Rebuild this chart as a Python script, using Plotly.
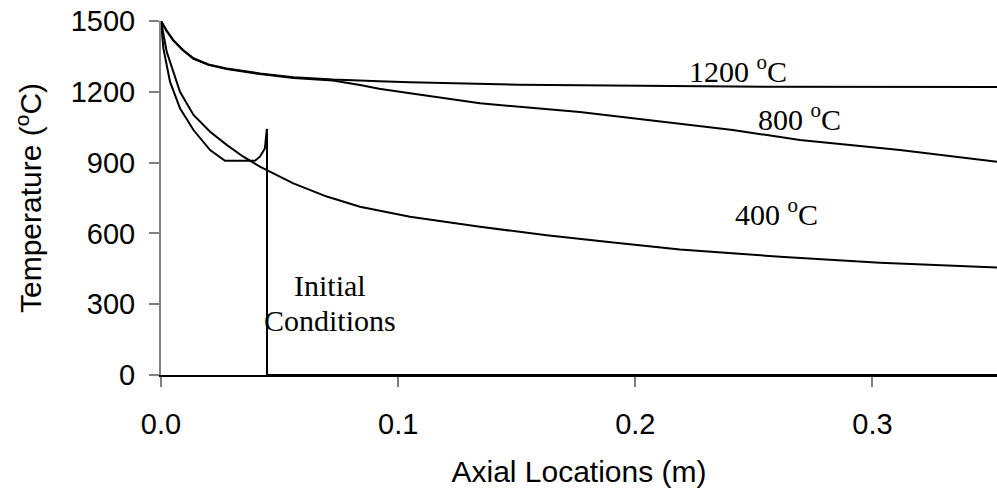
import plotly.graph_objects as go

# ---- data ----
x_1200 = [0, 0.0022, 0.0052, 0.0092, 0.0137, 0.020, 0.0277, 0.0417, 0.0558, 0.0725, 0.092, 0.105, 0.151, 0.241, 0.3525]
y_1200 = [1500, 1462, 1419, 1378, 1342, 1316, 1299, 1278, 1262, 1252, 1245, 1240, 1230, 1222, 1220]

x_800 = [0, 0.0022, 0.0052, 0.0092, 0.0137, 0.020, 0.0277, 0.0417, 0.0558, 0.0725, 0.0839, 0.092, 0.105, 0.1345, 0.1766, 0.2188, 0.2411, 0.2694, 0.3116, 0.3525]
y_800 = [1500, 1460, 1417, 1376, 1340, 1314, 1297, 1275, 1259, 1248, 1229, 1213, 1194, 1151, 1114, 1066, 1038, 996, 953, 904]

x_400 = [0, 0.0024, 0.008, 0.0137, 0.0207, 0.0277, 0.0347, 0.0417, 0.0558, 0.0699, 0.0839, 0.0923, 0.105, 0.1345, 0.1626, 0.1907, 0.2188, 0.261, 0.3031, 0.3525]
y_400 = [1500, 1370, 1200, 1102, 1031, 975, 925, 883, 812, 756, 713, 696, 671, 628, 592, 561, 532, 501, 476, 456]

x_init = [0, 0.001, 0.0038, 0.008, 0.0137, 0.0207, 0.027, 0.0396, 0.0417, 0.0438, 0.0446, 0.0447, 0.0447, 0.3525]
y_init = [1500, 1384, 1243, 1130, 1038, 953, 908, 908, 925, 960, 1038, 1042, 0, 0]

x_ticks = [0, 0.1, 0.2, 0.3]
x_ticktext = ["0.0", "0.1", "0.2", "0.3"]
y_ticks = [0, 300, 600, 900, 1200, 1500]

labels = ["1200 <sup>o</sup>C", "800 <sup>o</sup>C", "400 <sup>o</sup>C", "Initial", "Conditions"]
label_x = [0.2433, 0.2694, 0.2597, 0.0712, 0.0712]
label_y = [1297, 1093, 691, 381, 233]

SANS = "Liberation Sans, Arial, sans-serif"
SERIF = "Liberation Serif, Times New Roman, serif"

fig = go.Figure()
for xs, ys in [(x_1200, y_1200), (x_800, y_800), (x_400, y_400), (x_init, y_init)]:
    fig.add_trace(go.Scatter(x=xs, y=ys, mode="lines",
                             line=dict(color="black", width=2), hoverinfo="skip"))

for t, ax, ay in zip(labels, label_x, label_y):
    fig.add_annotation(x=ax, y=ay, xref="x", yref="y", text=t, showarrow=False,
                       font=dict(family=SERIF, size=30, color="black"),
                       align="center")

fig.update_layout(
    width=997, height=498,
    margin=dict(l=161, r=0, t=21, b=123),
    plot_bgcolor="white", paper_bgcolor="white",
    showlegend=False,
)
fig.update_xaxes(
    range=[0, 0.3525], tickvals=x_ticks, ticktext=x_ticktext,
    ticks="outside", ticklen=10, tickwidth=1.5, tickcolor="#808080",
    showline=True, linecolor="black", linewidth=1.5,
    showgrid=False, zeroline=False,
    tickfont=dict(family=SANS, size=29, color="black"),
    ticklabelstandoff=12,
    title=dict(text="Axial Locations (m)", font=dict(family=SANS, size=30, color="black"), standoff=22),
)
fig.update_yaxes(
    range=[0, 1500], tickvals=y_ticks,
    ticks="outside", ticklen=10, tickwidth=1.5, tickcolor="#808080",
    showline=True, linecolor="#808080", linewidth=2,
    showgrid=False, zeroline=False,
    tickfont=dict(family=SANS, size=29, color="black"),
    ticklabelstandoff=8,
    title=dict(text="Temperature (<sup>o</sup>C)", font=dict(family=SANS, size=30, color="black"), standoff=20),
)

fig.write_html("out.html")
